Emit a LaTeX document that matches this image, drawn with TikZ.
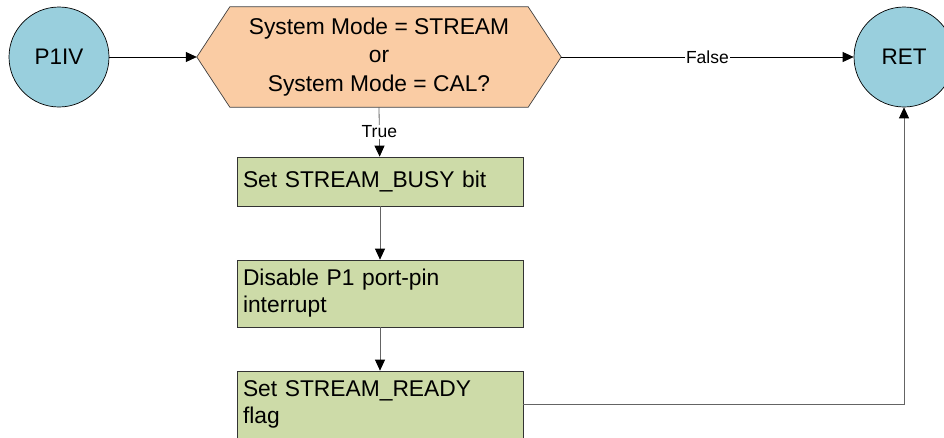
\documentclass[tikz,border=0pt]{standalone}
\usepackage{fontspec}
\setmainfont{Liberation Sans}
\usetikzlibrary{arrows.meta,backgrounds}
\definecolor{termblue}{RGB}{153,207,221}
\definecolor{decpeach}{RGB}{250,204,164}
\definecolor{procgreen}{RGB}{205,219,168}
\definecolor{linegray}{RGB}{100,100,100}
\tikzset{
  term/.style={circle, draw=black, line width=0.7pt, fill=termblue, minimum size=100pt, inner sep=0pt,
    font=\fontsize{22.5}{26}\selectfont},
  proc/.style={rectangle, draw=black!80, line width=0.7pt, fill=procgreen, minimum width=286pt,
    inner sep=0pt, text width=274pt, align=left, font=\fontsize{22.8}{27}\selectfont},
  decbox/.style={rectangle, minimum width=364pt, minimum height=100pt, inner sep=0pt, align=center,
    font=\fontsize{22.8}{28.5}\selectfont},
  flow/.style={line width=0.8pt, -{Triangle[length=11pt,width=10pt,black]}},
  lbl/.style={fill=white, inner sep=1pt, font=\fontsize{17.5}{20}\selectfont}
}
\begin{document}
\begin{tikzpicture}[x=1pt, y=-1pt]
  \useasboundingbox (0,0) rectangle (944,437);
  \clip (0,0) rectangle (944,437);

  % terminals
  \node[term] (p1iv) at (59,57) {P1IV};
  \node[term] (ret) at (904,57) {RET};

  % decision: hexagon drawn behind its text node
  \node[decbox] (dec) at (379,57) {System Mode = STREAM\\or\\System Mode = CAL?};
  \begin{scope}[on background layer]
    \draw[fill=decpeach, draw=black!75, line width=0.7pt]
      (dec.west) -- ([xshift=33pt]dec.north west) -- ([xshift=-33pt]dec.north east)
      -- (dec.east) -- ([xshift=-33pt]dec.south east) -- ([xshift=33pt]dec.south west) -- cycle;
  \end{scope}

  % process steps
  \node[proc, minimum height=49pt] (busy) at (380,181.5) {Set STREAM\_BUSY bit};
  \node[proc, minimum height=67pt] (dis) at (380,293.5) {Disable P1 port-pin\\interrupt};
  \node[proc, minimum height=67pt] (ready) at (380,404.5) {Set STREAM\_READY\\flag};

  % connectors
  \draw[flow] (p1iv) -- (dec.west);
  \draw[flow] (dec.east) -- node[lbl] {False} (ret);
  \draw[flow, linegray] (dec.south) -- node[lbl, text=black] {True} (busy);
  \draw[flow, linegray] (busy) -- (dis);
  \draw[flow, linegray] (dis) -- (ready);
  \draw[flow, linegray] (ready.east) -| (ret.south);
\end{tikzpicture}
\end{document}
